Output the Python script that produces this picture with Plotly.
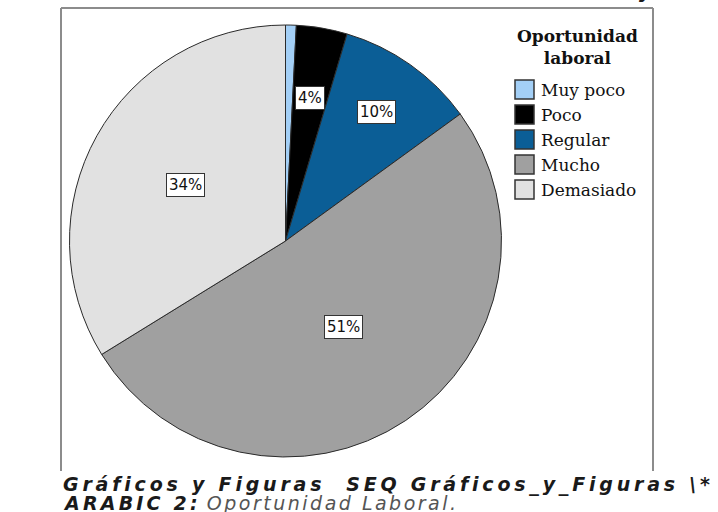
import math
import plotly.graph_objects as go

# ---- data ----
categories = ["Muy poco", "Poco", "Regular", "Mucho", "Demasiado"]
values = [0.8, 3.8, 10.4, 51.2, 33.8]
colors = ["#a3cff6", "#000000", "#0b5e96", "#a0a0a0", "#e1e1e1"]
legend_title = "Oportunidad<br>laboral"
caption_line1 = "Gráficos y Figuras\u00a0 SEQ Gráficos_y_Figuras \\*"
caption_line2a = "ARABIC 2:"
caption_line2b = "Oportunidad Laboral."
clipped_top_text = "y"

W, H = 718, 512
# pie placement (pixels)
CX, CY, R = 285.5, 241.0, 216.0
label_frac = [0.0, 0.67, 0.73, 0.48, 0.53]


def px(x):
    return x / W


def py(y):
    return 1 - y / H


fig = go.Figure()
fig.add_trace(go.Pie(
    labels=categories,
    values=values,
    sort=False,
    direction="clockwise",
    rotation=0,
    marker=dict(colors=colors, line=dict(color="#2a2a2a", width=1)),
    textinfo="none",
    hoverinfo="label+percent",
    showlegend=False,
    domain=dict(x=[px(CX - R), px(CX + R)], y=[py(CY + R), py(CY - R)]),
))

annotations = []
shapes = []

# percentage labels, placed at slice mid-angles derived from the data
total = sum(values)
cum = 0.0
for i, v in enumerate(values):
    mid = (cum + v / 2) / total * 2 * math.pi
    cum += v
    pct = round(v / total * 100)
    if pct < 2:
        continue
    f = label_frac[i]
    x = CX + R * f * math.sin(mid)
    y = CY - R * f * math.cos(mid)
    annotations.append(dict(
        x=px(x), y=py(y), xref="paper", yref="paper", showarrow=False,
        text=f"{pct}%", font=dict(family="DejaVu Sans", size=15, color="#111"),
        bgcolor="white", bordercolor="#333", borderwidth=1, borderpad=2,
        xanchor="center", yanchor="middle",
    ))

# legend (manual, built from categories/colors)
annotations.append(dict(
    x=px(577), y=py(47), xref="paper", yref="paper", showarrow=False,
    text="<b>" + legend_title + "</b>",
    font=dict(family="DejaVu Serif", size=17, color="#111"),
    xanchor="center", yanchor="middle", align="center",
))
for i, (c, col) in enumerate(zip(categories, colors)):
    yc = 89.5 + 25 * i
    shapes.append(dict(
        type="rect", xref="paper", yref="paper",
        x0=px(515), x1=px(534), y0=py(yc - 9.5), y1=py(yc + 9.5),
        fillcolor=col, line=dict(color="#333", width=1.5),
    ))
    annotations.append(dict(
        x=px(539), y=py(yc), xref="paper", yref="paper", showarrow=False,
        text=c, font=dict(family="DejaVu Serif", size=17, color="#111"),
        xanchor="left", yanchor="middle",
    ))

# frame
frame_col = "#8c8c8c"
shapes.append(dict(type="line", xref="paper", yref="paper",
                   x0=px(61), x1=px(61), y0=py(8), y1=py(471),
                   line=dict(color=frame_col, width=2)))
shapes.append(dict(type="line", xref="paper", yref="paper",
                   x0=px(61), x1=px(653), y0=py(8), y1=py(8),
                   line=dict(color=frame_col, width=2)))
shapes.append(dict(type="line", xref="paper", yref="paper",
                   x0=px(653), x1=px(653), y0=py(8), y1=py(471),
                   line=dict(color=frame_col, width=2)))

# clipped text remnant at the very top
annotations.append(dict(
    x=px(646), y=py(4), xref="paper", yref="paper", showarrow=False,
    text="<b><i>" + clipped_top_text + "</i></b>",
    font=dict(family="DejaVu Sans", size=19, color="#1a1a1a"),
    xanchor="center", yanchor="bottom",
))

# caption
annotations.append(dict(
    x=px(61), y=py(484.5), xref="paper", yref="paper", showarrow=False,
    text="<b><i><span style='letter-spacing:3.8px'>" + caption_line1
         + "</span></i></b>",
    font=dict(family="DejaVu Sans", size=19, color="#1a1a1a"),
    xanchor="left", yanchor="middle",
))
annotations.append(dict(
    x=px(61), y=py(503), xref="paper", yref="paper", showarrow=False,
    text="<b><i><span style='letter-spacing:3.2px'>" + caption_line2a
         + "</span></i></b> <i><span style='color:#555;letter-spacing:2.5px'>"
         + caption_line2b + "</span></i>",
    font=dict(family="DejaVu Sans", size=19, color="#1a1a1a"),
    xanchor="left", yanchor="middle",
))

fig.update_layout(
    width=W, height=H,
    margin=dict(l=0, r=0, t=0, b=0),
    paper_bgcolor="white", plot_bgcolor="white",
    annotations=annotations, shapes=shapes,
)

fig.write_html("out.html",
               config={"displayModeBar": False},
               post_script="document.body.style.margin='0';"
                           "document.body.style.overflow='hidden';")
